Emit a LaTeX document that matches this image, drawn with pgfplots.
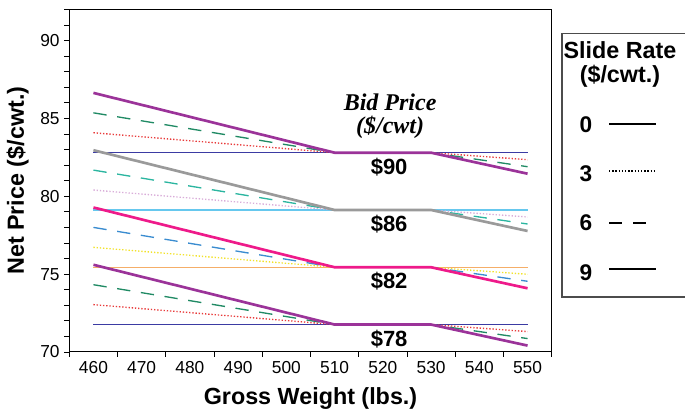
\documentclass[border=0pt]{standalone}
\usepackage{pgfplots}
\pgfplotsset{compat=1.18}
\usepackage{fontspec}
\newfontfamily\arial{Liberation Sans}
\newfontfamily\tnr{Liberation Serif}

% $90 and $78 groups
\definecolor{navyA}{HTML}{3B3BA3}
\definecolor{redA}{HTML}{E83A3A}
\definecolor{greenA}{HTML}{208A64}
\definecolor{purpA}{HTML}{9B3399}
% $86 group
\definecolor{cyanB}{HTML}{66C8EE}
\definecolor{plumB}{HTML}{D9ADD9}
\definecolor{tealB}{HTML}{2BB5A0}
\definecolor{grayB}{HTML}{9A9A9A}
% $82 group
\definecolor{orngC}{HTML}{F5AE68}
\definecolor{yellC}{HTML}{F2E22A}
\definecolor{blueC}{HTML}{3A8CD0}
\definecolor{magC}{HTML}{EE1A8A}

\tikzset{
  s0/.style={line width=0.9pt},
  s3/.style={line width=1pt, dash pattern=on 1pt off 1.4pt},
  s6/.style={line width=1pt, dash pattern=on 10pt off 8pt},
  s9/.style={line width=2pt},
}

\begin{document}
\begin{tikzpicture}
\begin{axis}[
    name=ax,
    width=361.8pt, height=256.9pt, scale only axis,
    xmin=455, xmax=555,
    ymin=70, ymax=92,
    xtick={460,470,...,550},
    minor xtick={455,465,...,555},
    ytick={70,75,...,90},
    minor ytick={70,71,...,92},
    tick align=outside,
    tick pos=left,
    major tick length=3.75pt,
    minor tick length=3.75pt,
    tick style={black, line width=0.6pt},
    major x tick style={draw=none},
    axis line style={line width=0.8pt},
    /pgf/number format/assume math mode=true,
    /pgf/number format/1000 sep={},
    ticklabel style={font=\arial\fontsize{13}{15}\selectfont},
    xlabel={Gross Weight (lbs.)},
    ylabel={Net Price (\$/cwt.)},
    label style={font=\arial\bfseries\fontsize{17.5}{20}\selectfont},
    xlabel style={at={(axis description cs:0.5,0)}, anchor=base, yshift=-39.75pt},
    ylabel style={at={(axis description cs:0,0.5)}, anchor=center, yshift=38.8pt},
    clip=false,
]

% Bid price $90
\addplot[s0, navyA] coordinates {(460,82.80)(550,82.80)};
\addplot[s3, redA] coordinates {(460,84.08)(510,82.80)(530,82.80)(550,82.35)};
\addplot[s6, greenA] coordinates {(460,85.36)(510,82.80)(530,82.80)(550,81.90)};
\addplot[s9, purpA] coordinates {(460,86.64)(510,82.80)(530,82.80)(550,81.45)};

% Bid price $86
\addplot[s0, cyanB] coordinates {(460,79.12)(550,79.12)};
\addplot[s3, plumB] coordinates {(460,80.40)(510,79.12)(530,79.12)(550,78.67)};
\addplot[s6, tealB] coordinates {(460,81.68)(510,79.12)(530,79.12)(550,78.22)};
\addplot[s9, grayB] coordinates {(460,82.96)(510,79.12)(530,79.12)(550,77.77)};

% Bid price $82
\addplot[s0, orngC] coordinates {(460,75.44)(550,75.44)};
\addplot[s3, yellC] coordinates {(460,76.72)(510,75.44)(530,75.44)(550,74.99)};
\addplot[s6, blueC] coordinates {(460,78.00)(510,75.44)(530,75.44)(550,74.54)};
\addplot[s9, magC] coordinates {(460,79.28)(510,75.44)(530,75.44)(550,74.09)};

% Bid price $78
\addplot[s0, navyA] coordinates {(460,71.76)(550,71.76)};
\addplot[s3, redA] coordinates {(460,73.04)(510,71.76)(530,71.76)(550,71.31)};
\addplot[s6, greenA] coordinates {(460,74.32)(510,71.76)(530,71.76)(550,70.86)};
\addplot[s9, purpA] coordinates {(460,75.60)(510,71.76)(530,71.76)(550,70.41)};

\node[font=\tnr\bfseries\itshape\fontsize{18}{20}\selectfont, anchor=base, inner sep=0pt] at (axis cs:521.5,85.50) {Bid Price};
\node[font=\tnr\bfseries\itshape\fontsize{18}{20}\selectfont, anchor=base, inner sep=0pt] at (axis cs:521.5,84.01) {(\$/cwt)};
\node[font=\arial\bfseries\fontsize{16.5}{18}\selectfont, anchor=base] at (axis cs:521.3,81.42) {\$90};
\node[font=\arial\bfseries\fontsize{16.5}{18}\selectfont, anchor=base] at (axis cs:521.3,77.74) {\$86};
\node[font=\arial\bfseries\fontsize{16.5}{18}\selectfont, anchor=base] at (axis cs:521.3,74.06) {\$82};
\node[font=\arial\bfseries\fontsize{16.5}{18}\selectfont, anchor=base] at (axis cs:521.3,70.38) {\$78};
\end{axis}

% legend
\draw[black!70, line width=0.9pt] ([shift={(369.5pt,41.25pt)}]ax.south west) rectangle ([shift={(480pt,239pt)}]ax.south west);
\node[font=\arial\bfseries\fontsize{17.5}{20}\selectfont, anchor=base] at ([shift={(413pt,219.75pt)}]ax.south west) {Slide Rate};
\node[font=\arial\bfseries\fontsize{17.5}{20}\selectfont, anchor=base] at ([shift={(413pt,201.75pt)}]ax.south west) {(\$/cwt.)};
\foreach \lab/\yy/\ly/\sty in {0/170.25/171/s0, 3/133.5/135.75/s3, 6/96.75/96.75/s6, 9/59.25/62.25/s9} {
  \node[font=\arial\bfseries\fontsize{17}{20}\selectfont, anchor=center] at ([shift={(387.5pt,\yy pt)}]ax.south west) {\lab};
  \draw[\sty, black] ([shift={(404.8pt,\ly pt)}]ax.south west) -- ([shift={(440pt,\ly pt)}]ax.south west);
}

\pgfresetboundingbox
\path[use as bounding box] ([shift={(-52pt,-43.5pt)}]ax.south west) rectangle ([shift={(461.8pt,264pt)}]ax.south west);
\end{tikzpicture}
\end{document}
